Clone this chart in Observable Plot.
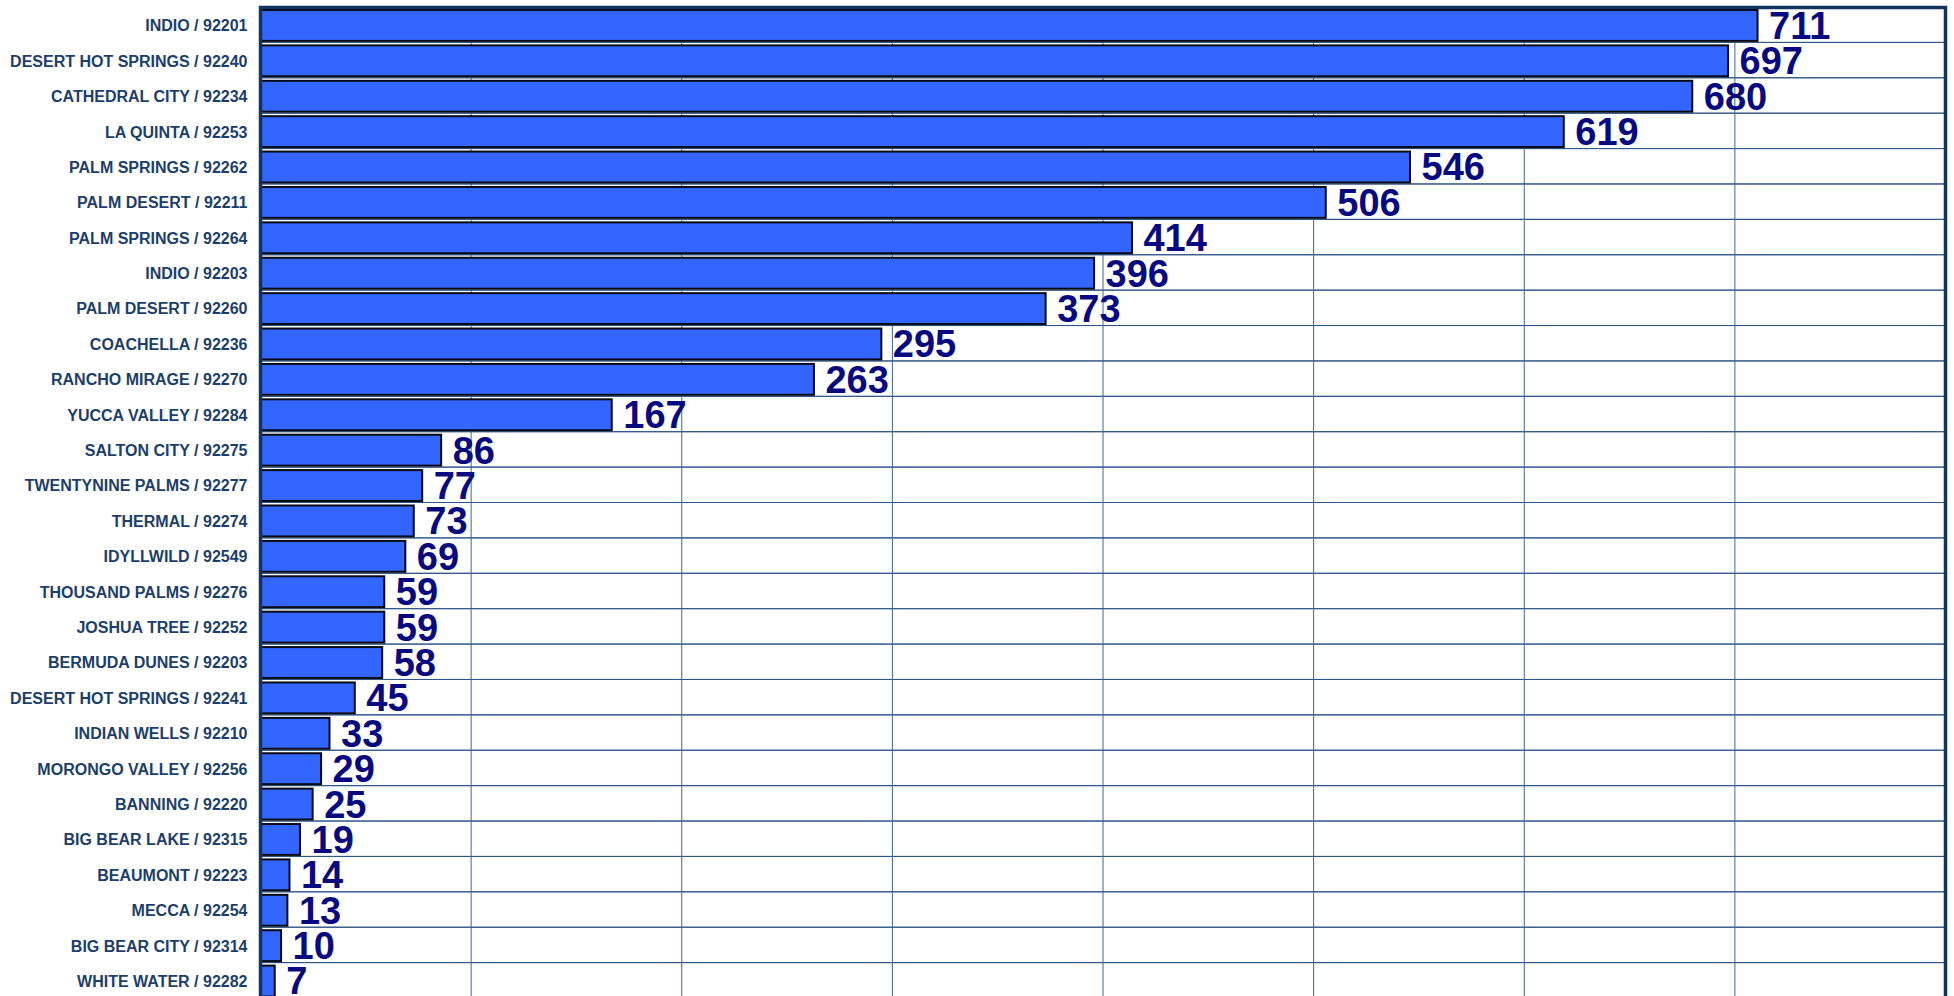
<!DOCTYPE html>
<html>
<head>
<meta charset="utf-8">
<script src="https://cdn.jsdelivr.net/npm/d3@7"></script>
<script src="https://cdn.jsdelivr.net/npm/@observablehq/plot@0.6"></script>
<style>
  html, body { margin: 0; padding: 0; background: #fff; }
  #chart svg { display: block; }
</style>
</head>
<body>
<div id="chart"></div>
<script>
const categories = [
  "INDIO / 92201", "DESERT HOT SPRINGS / 92240", "CATHEDRAL CITY / 92234", "LA QUINTA / 92253",
  "PALM SPRINGS / 92262", "PALM DESERT / 92211", "PALM SPRINGS / 92264", "INDIO / 92203",
  "PALM DESERT / 92260", "COACHELLA / 92236", "RANCHO MIRAGE / 92270", "YUCCA VALLEY / 92284",
  "SALTON CITY / 92275", "TWENTYNINE PALMS / 92277", "THERMAL / 92274", "IDYLLWILD / 92549",
  "THOUSAND PALMS / 92276", "JOSHUA TREE / 92252", "BERMUDA DUNES / 92203", "DESERT HOT SPRINGS / 92241",
  "INDIAN WELLS / 92210", "MORONGO VALLEY / 92256", "BANNING / 92220", "BIG BEAR LAKE / 92315",
  "BEAUMONT / 92223", "MECCA / 92254", "BIG BEAR CITY / 92314", "WHITE WATER / 92282"
];
const values = [711, 697, 680, 619, 546, 506, 414, 396, 373, 295, 263, 167, 86, 77, 73, 69, 59, 59, 58, 45, 33, 29, 25, 19, 14, 13, 10, 7];
const xTicks = [100, 200, 300, 400, 500, 600, 700];
const xDomain = [0, 800];

const data = categories.map((c, i) => ({name: c, value: values[i]}));

const chart = Plot.plot({
  width: 1954,
  height: 1000,
  marginLeft: 260,
  marginRight: 9,
  marginTop: 7,
  marginBottom: 2,
  style: {fontFamily: "'Liberation Sans', Arial, sans-serif", background: "#fff"},
  x: {domain: xDomain, axis: null},
  y: {domain: categories, padding: 0, round: false, axis: null},
  marks: [
    Plot.barX(categories, {x1: xDomain[0], x2: xDomain[1], y: d => d, fill: "none", stroke: "#2f5686", strokeWidth: 1}),
    Plot.ruleX(xTicks, {stroke: "#3d6594", strokeWidth: 1}),
    Plot.barX(data, {x: "value", y: "name", fill: "#3366ff", stroke: "#0a0a14", strokeWidth: 2, insetTop: 3, insetBottom: 1.5}),
    Plot.text(data, {x: "value", y: "name", text: d => String(d.value), textAnchor: "start", dx: 11, dy: 1.5, fontSize: 38, fontWeight: "bold", fill: "#0a0a80"}),
    Plot.text(categories, {x: xDomain[0], y: d => d, text: d => d, textAnchor: "end", dx: -13, dy: 1, fontSize: 16, fontWeight: "bold", fill: "#1b3e6c"}),
    Plot.frame({stroke: "#12355f", strokeWidth: 3.5})
  ]
});
document.getElementById("chart").appendChild(chart);
</script>
</body>
</html>
